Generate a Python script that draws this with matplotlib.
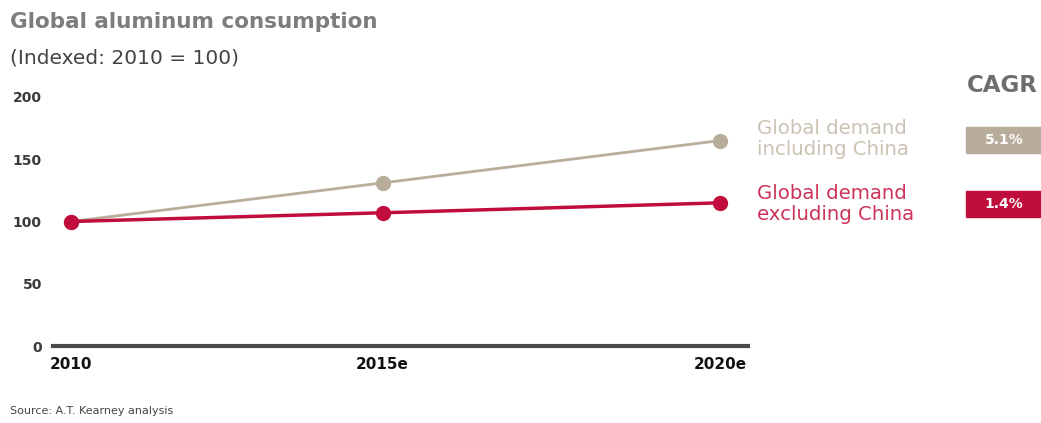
import matplotlib
matplotlib.use("Agg")
import matplotlib.pyplot as plt
from matplotlib.patches import Rectangle

# Data
categories = ["2010", "2015e", "2020e"]
incl_china = [100, 131, 165]
excl_china = [100, 107, 115]
series_labels = ["Global demand\nincluding China", "Global demand\nexcluding China"]
cagr_labels = ["5.1%", "1.4%"]
yticks = [0, 50, 100, 150, 200]

TAN = "#b8ad9a"
RED = "#c00d3c"
plt.rcParams['font.family'] = ['DejaVu Sans']

fig = plt.figure(figsize=(10.41, 4.23), dpi=100)
ax = fig.add_axes([53/1041, 1-346/423, (748-53)/1041, (346-97)/423])
# layout: horizontal placement of the three categories (as in the source graphic)
xpos = [0, 0.96, 2]

ax.plot(xpos, incl_china, color=TAN, lw=2, marker="o", ms=10, clip_on=False, zorder=3)
ax.plot(xpos, excl_china, color=RED, lw=2.5, marker="o", ms=10, clip_on=False, zorder=4)

ax.set_xlim((53-71)/324.5, (748-71)/324.5)
ax.set_ylim(0, 200)
ax.set_yticks(yticks)
ax.set_yticklabels([str(v) for v in yticks], fontsize=10, color="#3a3a3a", fontweight="bold")
ax.set_xticks(xpos)
ax.set_xticklabels(categories, fontsize=11, fontweight="bold", color="#111111")
ax.tick_params(axis="both", length=0)
ax.tick_params(axis="y", pad=8)
ax.tick_params(axis="x", pad=8)
for s in ["top", "right", "left"]:
    ax.spines[s].set_visible(False)
ax.spines["bottom"].set_color("#4a4a4a")
ax.spines["bottom"].set_linewidth(3)

fig.text(10/1041, 1-22/423, "Global aluminum consumption", fontsize=15.5, fontweight="bold",
         color="#7d7d7d", va="center", ha="left")
fig.text(10/1041, 1-58/423, "(Indexed: 2010 = 100)", fontsize=14.5, color="#444444",
         va="center", ha="left")
fig.text(10/1041, 1-411/423, "Source: A.T. Kearney analysis", fontsize=8, color="#444444",
         va="center", ha="left")

# legend labels
fig.text(757/1041, 1-139/423, series_labels[0], fontsize=14.2, color="#cbc2b4",
         va="center", ha="left", linespacing=1.1)
fig.text(757/1041, 1-204/423, series_labels[1], fontsize=14.2, color="#cc3358",
         va="center", ha="left", linespacing=1.1)

fig.text(967/1041, 1-86/423, "CAGR", fontsize=16.5, fontweight="bold", color="#6e6e6e",
         va="center", ha="left")
box_colors = [TAN, RED]
box_y = [127, 191]
for lab, c, yb in zip(cagr_labels, box_colors, box_y):
    fig.patches.append(Rectangle((966/1041, 1-(yb+26)/423), 80/1041, 26/423,
                                 transform=fig.transFigure, color=c, zorder=1))
    fig.text(1004/1041, 1-(yb+13)/423, lab, fontsize=10, fontweight="bold", color="white",
             va="center", ha="center")

fig.savefig("out.png", dpi=100, facecolor="white")
